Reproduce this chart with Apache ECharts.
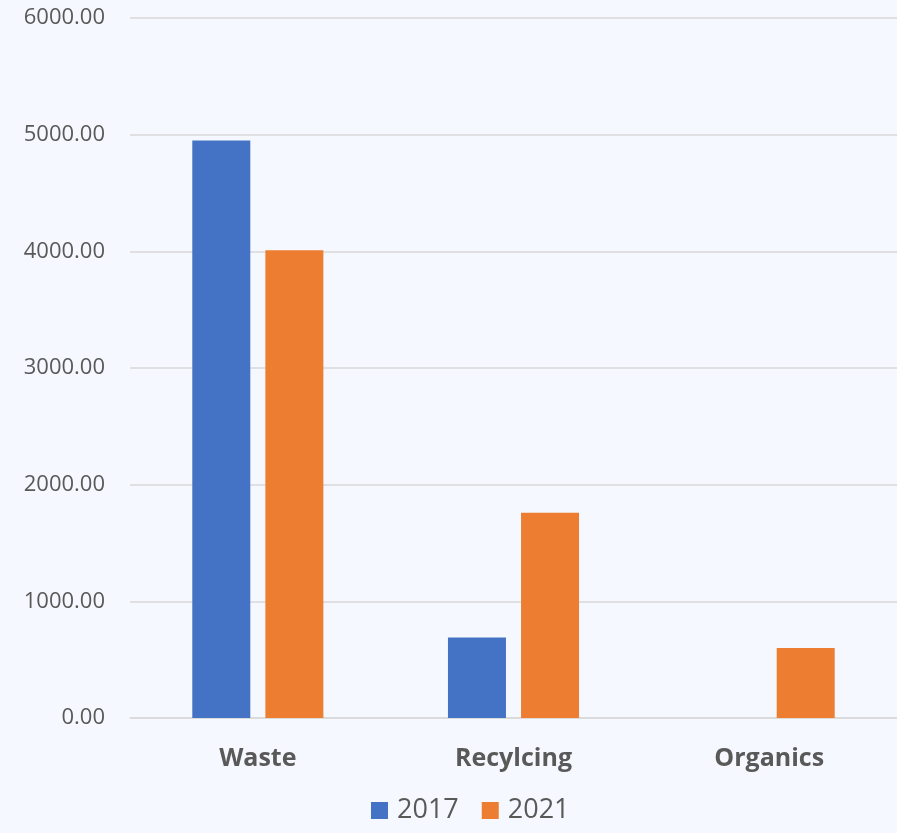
<!DOCTYPE html>
<html>
<head>
<meta charset="utf-8">
<script src="https://cdn.jsdelivr.net/npm/echarts@6/dist/echarts.min.js"></script>
<style>
  html, body { margin: 0; padding: 0; background: #F5F8FE; }
  #chart { width: 897px; height: 833px; }
</style>
</head>
<body>
<div id="chart"></div>
<script>
// Waste stream tonnages by year
const categories = ['Waste', 'Recylcing', 'Organics'];
const seriesNames = ['2017', '2021'];
const values2017 = [4950, 690, 0];
const values2021 = [4010, 1760, 600];
const yTicks = { min: 0, max: 6000, interval: 1000 };

const chart = echarts.init(document.getElementById('chart'), null, { renderer: 'canvas' });

const labelColor = '#595959';
const font = '"Open Sans", "Noto Sans", sans-serif';

chart.setOption({
  backgroundColor: '#F5F8FE',
  animation: false,
  grid: { left: 130, right: -7, top: 18, bottom: 115, containLabel: false },
  legend: {
    data: seriesNames,
    top: 797,
    left: 371,
    padding: 0,
    itemWidth: 17,
    itemHeight: 17,
    itemGap: 23,
    icon: 'rect',
    textStyle: { color: labelColor, fontSize: 27, fontFamily: font, padding: [0, 0, 0, 4] }
  },
  xAxis: {
    type: 'category',
    data: categories,
    axisTick: { show: false },
    axisLine: { lineStyle: { color: '#D9D9D9', width: 1.5 } },
    axisLabel: {
      color: labelColor, fontSize: 25, fontWeight: 'bold', fontFamily: font, margin: 28
    }
  },
  yAxis: {
    type: 'value',
    min: yTicks.min,
    max: yTicks.max,
    interval: yTicks.interval,
    axisLine: { show: false },
    axisTick: { show: false },
    splitLine: { lineStyle: { color: '#D9D9D9', width: 1.5 } },
    axisLabel: {
      color: labelColor, fontSize: 22, fontFamily: font, margin: 25,
      formatter: v => v.toFixed(2)
    }
  },
  series: [
    {
      name: seriesNames[0], type: 'bar', data: values2017,
      barWidth: 58, barGap: '26%',
      itemStyle: { color: '#4472C4' }
    },
    {
      name: seriesNames[1], type: 'bar', data: values2021,
      barWidth: 58, barGap: '26%',
      itemStyle: { color: '#ED7D31' }
    }
  ]
});
</script>
</body>
</html>
